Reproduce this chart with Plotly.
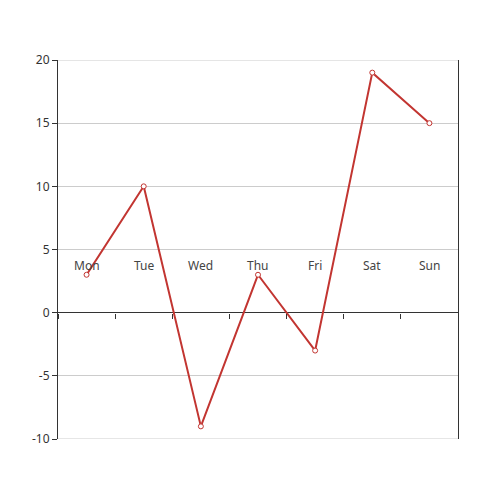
import plotly.graph_objects as go

# weekly values
days = ["Mon", "Tue", "Wed", "Thu", "Fri", "Sat", "Sun"]
values = [3, 10, -9, 3, -3, 19, 15]
y_ticks = [-10, -5, 0, 5, 10, 15, 20]
y_labels = ["-10", "-5", "0", "5", "10", "15", "20"]

red = "#c23531"
axis_col = "#333333"

fig = go.Figure()
fig.add_trace(go.Scatter(
    x=days, y=values,
    mode="lines+markers",
    line=dict(color=red, width=2),
    marker=dict(symbol="circle", size=5, color="white",
                line=dict(color=red, width=1)),
    hoverinfo="x+y",
))

# day labels sit above the zero line (inside the grid)
for d in days:
    fig.add_annotation(x=d, y=0.459, xref="x", yref="paper", text=d,
                       showarrow=False, font=dict(size=12, color="#444"))

# gray lines at the top and bottom of the value range
for yv in (y_ticks[0], y_ticks[-1]):
    fig.add_shape(type="line", xref="paper", yref="y", x0=0, x1=1,
                  y0=yv, y1=yv, line=dict(color="#cccccc", width=1))

fig.update_layout(
    width=500, height=500, autosize=False,
    margin=dict(l=50, r=50, t=52, b=69),
    paper_bgcolor="white",
    plot_bgcolor="white",
    showlegend=False,
    font=dict(family="Noto Sans, DejaVu Sans, sans-serif", size=12, color="#333"),
    xaxis=dict(
        type="category", categoryorder="array", categoryarray=days,
        range=[-0.5, len(days) - 0.5],
        showgrid=False, showline=False, zeroline=False,
        tickson="boundaries", ticks="outside", ticklen=5, tickcolor=axis_col,
        showticklabels=False, automargin=False,
        anchor="free", position=10 / 30,
    ),
    yaxis=dict(
        range=[-10, 20], tickvals=y_ticks, ticktext=y_labels,
        showgrid=True, gridcolor="#cccccc", gridwidth=1,
        zeroline=True, zerolinecolor=axis_col, zerolinewidth=1,
        showline=True, linecolor=axis_col, linewidth=1, mirror=True,
        ticks="outside", ticklen=5, tickcolor=axis_col, automargin=False,
        tickfont=dict(size=12, color="#333"),
    ),
)

fig.write_html("out.html")
